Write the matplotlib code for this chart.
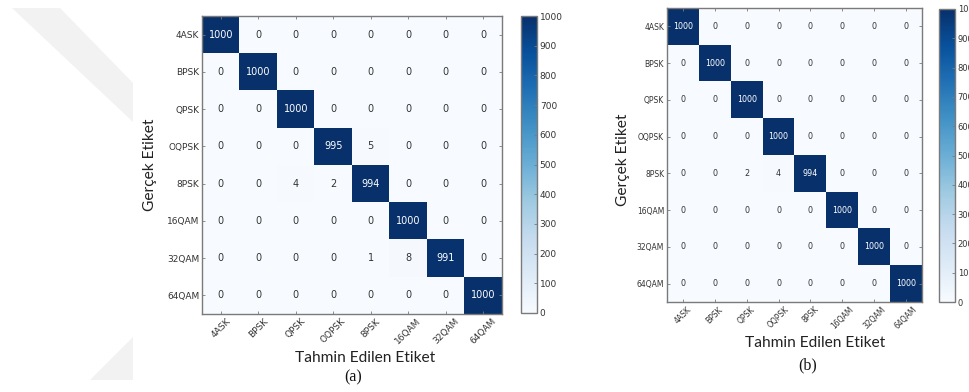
import matplotlib.pyplot as plt
from matplotlib.patches import Polygon
import numpy as np

# siniflar ve karisiklik matrisleri
labels = ['4ASK', 'BPSK', 'QPSK', 'OQPSK', '8PSK', '16QAM', '32QAM', '64QAM']
cm_a = [[1000, 0, 0, 0, 0, 0, 0, 0],
        [0, 1000, 0, 0, 0, 0, 0, 0],
        [0, 0, 1000, 0, 0, 0, 0, 0],
        [0, 0, 0, 995, 5, 0, 0, 0],
        [0, 0, 4, 2, 994, 0, 0, 0],
        [0, 0, 0, 0, 0, 1000, 0, 0],
        [0, 0, 0, 0, 1, 8, 991, 0],
        [0, 0, 0, 0, 0, 0, 0, 1000]]
cm_b = [[1000, 0, 0, 0, 0, 0, 0, 0],
        [0, 1000, 0, 0, 0, 0, 0, 0],
        [0, 0, 1000, 0, 0, 0, 0, 0],
        [0, 0, 0, 1000, 0, 0, 0, 0],
        [0, 0, 2, 4, 994, 0, 0, 0],
        [0, 0, 0, 0, 0, 1000, 0, 0],
        [0, 0, 0, 0, 0, 0, 1000, 0],
        [0, 0, 0, 0, 0, 0, 0, 1000]]
cbar_ticks = list(range(0, 1001, 100))

W, H = 969, 392
fig = plt.figure(figsize=(W / 100, H / 100), dpi=100)
fig.patch.set_facecolor('white')

# arka plandaki soluk filigran
def px(pts):
    return [(x / W, 1 - y / H) for x, y in pts]

fig.patches.append(Polygon(px([(12, 8), (60, 8), (133, 83), (133, 122)]),
                           closed=True, transform=fig.transFigure,
                           facecolor='#f2f2f2', edgecolor='none', zorder=0))
fig.patches.append(Polygon(px([(133, 337), (133, 380), (90, 380)]),
                           closed=True, transform=fig.transFigure,
                           facecolor='#f2f2f2', edgecolor='none', zorder=0))

spine_col = '#7a7a7a'
txt_col = '#333333'


def draw_cm(ax, cax, cm, cell_fs, tick_fs, cbar_fs):
    cm = np.array(cm)
    im = ax.imshow(cm, interpolation='nearest', cmap='Blues', vmin=0, vmax=1000,
                   aspect='auto')
    n = len(labels)
    ax.set_xticks(range(n))
    ax.set_xticklabels(labels, rotation=45, fontsize=tick_fs, color=txt_col)
    ax.set_yticks(range(n))
    ax.set_yticklabels(labels, fontsize=tick_fs, color=txt_col)
    ax.tick_params(direction='in', length=2.5, width=0.6, color=spine_col,
                   top=True, right=True, pad=2)
    for s in ax.spines.values():
        s.set_color(spine_col)
        s.set_linewidth(1.0)
    thresh = cm.max() / 2.0
    for i in range(n):
        for j in range(n):
            ax.text(j, i, str(cm[i, j]), ha='center', va='center',
                    fontsize=cell_fs,
                    color='white' if cm[i, j] > thresh else txt_col)
    cb = fig.colorbar(im, cax=cax, ticks=cbar_ticks)
    cb.ax.tick_params(direction='in', length=2.5, width=0.6, color=spine_col,
                      labelsize=cbar_fs, labelcolor=txt_col, pad=2)
    cb.outline.set_edgecolor(spine_col)
    cb.outline.set_linewidth(1.0)


# (a)
ax_a = fig.add_axes([202 / W, 1 - 314 / H, 300 / W, 298 / H])
cax_a = fig.add_axes([521 / W, 1 - 313 / H, 16 / W, 297 / H])
draw_cm(ax_a, cax_a, cm_a, 7, 6.5, 6.5)

# (b)
ax_b = fig.add_axes([667 / W, 1 - 302 / H, 255 / W, 294 / H])
cax_b = fig.add_axes([939 / W, 1 - 302 / H, 16 / W, 293 / H])
draw_cm(ax_b, cax_b, cm_b, 5.8, 5.5, 6)

lab_font = dict(family=['Lato', 'DejaVu Sans'], fontsize=11.2, color='#222222')
fig.text(150 / W, 1 - 165 / H, 'Gerçek Etiket', rotation=90,
         ha='center', va='center', **lab_font)
fig.text(365 / W, 1 - 358 / H, 'Tahmin Edilen Etiket',
         ha='center', va='center', **lab_font)
fig.text(623 / W, 1 - 160 / H, 'Gerçek Etiket', rotation=90,
         ha='center', va='center', **lab_font)
fig.text(815 / W, 1 - 343 / H, 'Tahmin Edilen Etiket',
         ha='center', va='center', **lab_font)

cap_font = dict(family=['Liberation Serif', 'DejaVu Serif'], fontsize=11.5,
                color='#111111')
fig.text(353 / W, 1 - 377 / H, '(a)', ha='center', va='center', **cap_font)
fig.text(808 / W, 1 - 365 / H, '(b)', ha='center', va='center', **cap_font)

fig.savefig('out.png', dpi=100, facecolor='white')
